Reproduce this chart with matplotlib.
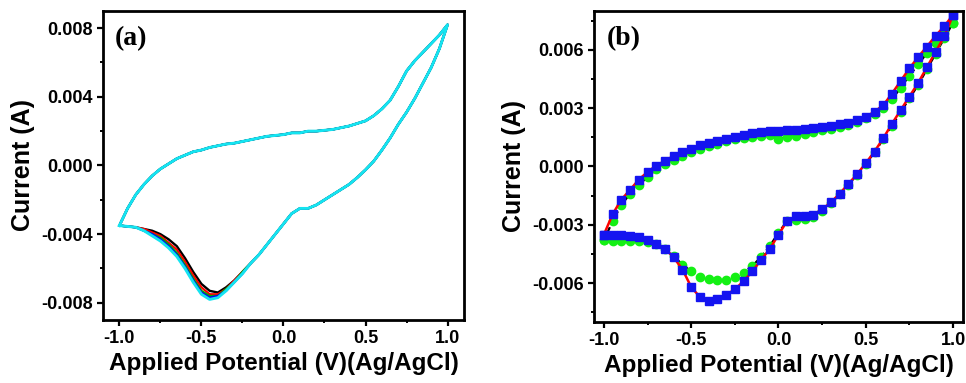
import matplotlib
matplotlib.use("Agg")
import matplotlib.pyplot as plt
from matplotlib.ticker import MultipleLocator, FormatStrFormatter

# sweep potential, V vs Ag/AgCl
v_fwd = [-1.0, -0.95, -0.9, -0.85, -0.8, -0.75, -0.7, -0.65, -0.6, -0.55, -0.5,
         -0.45, -0.4, -0.35, -0.3, -0.25, -0.2, -0.15, -0.1, -0.05, 0.0,
         0.05, 0.1, 0.15, 0.2, 0.25, 0.3, 0.35, 0.4, 0.45, 0.5,
         0.55, 0.6, 0.65, 0.7, 0.75, 0.8, 0.85, 0.9, 0.95, 1.0]
v_rev = v_fwd[::-1]

# ---- (a) repeated cycles ----
a_fwd = [-0.0035, -0.0025, -0.0017, -0.0011, -0.0006, -0.0002, 0.0001, 0.0004, 0.0006, 0.0008, 0.0009,
         0.00105, 0.00115, 0.00125, 0.0013, 0.0014, 0.0015, 0.0016, 0.0017, 0.00175, 0.0018,
         0.0019, 0.0019, 0.002, 0.002, 0.00205, 0.0021, 0.0022, 0.0023, 0.00245, 0.0026,
         0.0029, 0.0033, 0.0038, 0.0046, 0.0055, 0.0061, 0.0066, 0.0071, 0.0076, 0.0082]
# reverse sweep 1.0 -> -0.2 (common to all cycles)
a_rev_common = [0.0082, 0.0068, 0.0057, 0.0048, 0.0039, 0.0031, 0.0024, 0.0016, 0.0009, 0.00025,
                -0.00025, -0.0007, -0.0011, -0.0014, -0.0017, -0.002, -0.0023, -0.0025, -0.0025,
                -0.0028, -0.0034, -0.004, -0.0046, -0.0052, -0.0057]
# reverse sweep -0.25 -> -1.0, per cycle
a_tail_black = [-0.0062, -0.0067, -0.0071, -0.0074, -0.0073, -0.0069, -0.0062, -0.0054, -0.0047, -0.0043,
                -0.0040, -0.0038, -0.0037, -0.0036, -0.00355, -0.0035]
a_tail_red = [-0.0062, -0.0067, -0.0072, -0.0075, -0.0075, -0.0071, -0.0064, -0.0056, -0.0049, -0.0045,
              -0.0041, -0.0039, -0.0037, -0.0036, -0.00355, -0.0035]
a_tail_green = [-0.0062, -0.0068, -0.0072, -0.0076, -0.0076, -0.0073, -0.0066, -0.0058, -0.0051, -0.0046,
                -0.0042, -0.0040, -0.0038, -0.0036, -0.00355, -0.0035]
a_tail_blue = [-0.0063, -0.0068, -0.0073, -0.0076, -0.0077, -0.0074, -0.0067, -0.0059, -0.0052, -0.0047,
               -0.0043, -0.0040, -0.0038, -0.0036, -0.00355, -0.0035]
a_tail_cyan = [-0.0063, -0.0068, -0.0073, -0.0077, -0.0078, -0.0075, -0.0068, -0.0060, -0.0053, -0.0048,
               -0.0044, -0.0041, -0.0038, -0.0036, -0.00355, -0.0035]

# ---- (b) simulated vs experimental ----
b_sim_fwd = [-0.0035, -0.00245, -0.0017, -0.0012, -0.00067, -0.00028, 0.00005, 0.0003, 0.00055, 0.00074, 0.00092,
             0.00108, 0.00121, 0.00132, 0.00144, 0.00154, 0.00163, 0.00171, 0.00177, 0.00181, 0.00181,
             0.00186, 0.0019, 0.00195, 0.00198, 0.00202, 0.00209, 0.00217, 0.00226, 0.00238, 0.00256,
             0.00282, 0.00315, 0.00375, 0.0044, 0.00505, 0.00563, 0.00617, 0.00672, 0.00722, 0.0078]
b_sim_rev = [0.0078, 0.0067, 0.0059, 0.0051, 0.0043, 0.0036, 0.0029, 0.0022, 0.00145, 0.00077, 0.00017,
             -0.0004, -0.0009, -0.0014, -0.00185, -0.0022, -0.00248, -0.00256, -0.00256, -0.0028, -0.0035,
             -0.00425, -0.0048, -0.0054, -0.0059, -0.00632, -0.0066, -0.0068, -0.0069, -0.00672, -0.0062,
             -0.0053, -0.00468, -0.00422, -0.00398, -0.00378, -0.00365, -0.00358, -0.00355, -0.0035, -0.0035]
b_exp_fwd = [-0.0038, -0.0028, -0.00197, -0.0014, -0.00095, -0.00053, -0.00015, 0.00011, 0.00035, 0.00056, 0.00075,
             0.00091, 0.00106, 0.00118, 0.00129, 0.00139, 0.00145, 0.00151, 0.00158, 0.00164, 0.00141,
             0.00152, 0.00159, 0.00167, 0.00177, 0.00186, 0.00193, 0.00203, 0.00214, 0.0023, 0.00249,
             0.0027, 0.003, 0.00348, 0.00404, 0.00467, 0.00525, 0.00583, 0.00634, 0.00687, 0.0074]
b_exp_rev = [0.0074, 0.0066, 0.0058, 0.0050, 0.0042, 0.0035, 0.0028, 0.0021, 0.0014, 0.00073, 0.00013,
             -0.00043, -0.00093, -0.00143, -0.0019, -0.00228, -0.00258, -0.0027, -0.00275, -0.0028, -0.0034,
             -0.0041, -0.00465, -0.00512, -0.00546, -0.00568, -0.00582, -0.00586, -0.00581, -0.00568, -0.0054,
             -0.00505, -0.00462, -0.00425, -0.004, -0.00389, -0.00385, -0.00383, -0.00383, -0.00383, -0.0038]

plt.rcParams['font.family'] = ['Liberation Sans', 'DejaVu Sans']
plt.rcParams['font.weight'] = 'bold'
plt.rcParams['axes.labelweight'] = 'bold'
plt.rcParams['axes.unicode_minus'] = False

fig = plt.figure(figsize=(9.66, 3.83), dpi=100)
ax1 = fig.add_axes([0.1066, 0.1645, 0.3737, 0.8068])
ax2 = fig.add_axes([0.6149, 0.1593, 0.382, 0.812])

# (a)
v_a = v_fwd + v_rev[:25] + v_rev[25:]
cycles = [(a_tail_black, 'black', 1.7), (a_tail_red, 'red', 1.6), (a_tail_green, '#00b000', 1.6),
          (a_tail_blue, 'blue', 1.6), (a_tail_cyan, '#14e4f0', 2.1)]
for tail, col, lw in cycles:
    ax1.plot(v_a, a_fwd + a_rev_common + tail, color=col, lw=lw, solid_joinstyle='round')

ax1.set_xlim(-1.1, 1.1)
ax1.set_ylim(-0.009, 0.009)
ax1.yaxis.set_major_locator(MultipleLocator(0.004))
ax1.yaxis.set_minor_locator(MultipleLocator(0.002))
ax1.yaxis.set_major_formatter(FormatStrFormatter('%.3f'))
ax1.text(0.033, 0.91, '(a)', transform=ax1.transAxes, fontsize=20, fontweight='bold',
         family='Liberation Serif', va='center', ha='left')

# (b)
ax2.plot(v_fwd + v_rev, b_exp_fwd + b_exp_rev, color='black', ls=(0, (2.5, 1.5)), lw=1.6,
         marker='o', ms=6, mfc='#14f014', mec='#14f014')
ax2.plot(v_fwd + v_rev, b_sim_fwd + b_sim_rev, color='red', lw=1.8,
         marker='s', ms=5.6, mfc='#1414f0', mec='#1414f0')

ax2.set_xlim(-1.057, 1.057)
ax2.set_ylim(-0.008, 0.008)
ax2.yaxis.set_major_locator(MultipleLocator(0.003))
ax2.yaxis.set_minor_locator(MultipleLocator(0.0015))
ax2.yaxis.set_major_formatter(FormatStrFormatter('%.3f'))
ax2.text(0.035, 0.91, '(b)', transform=ax2.transAxes, fontsize=20, fontweight='bold',
         family='Liberation Serif', va='center', ha='left')

for ax in (ax1, ax2):
    ax.xaxis.set_major_locator(MultipleLocator(0.5))
    ax.xaxis.set_minor_locator(MultipleLocator(0.25))
    ax.xaxis.set_major_formatter(FormatStrFormatter('%.1f'))
    for s in ax.spines.values():
        s.set_linewidth(2.0)
    ax.tick_params(which='major', direction='out', length=4, width=1.6, labelsize=13, pad=3.5)
    ax.tick_params(which='minor', direction='out', length=2.5, width=1.4)
    ax.set_xlabel('Applied Potential (V)(Ag/AgCl)', fontsize=17.5, labelpad=3)
    ax.set_ylabel('Current (A)', fontsize=18, labelpad=4)

fig.savefig('out.png', dpi=100, facecolor='white')
